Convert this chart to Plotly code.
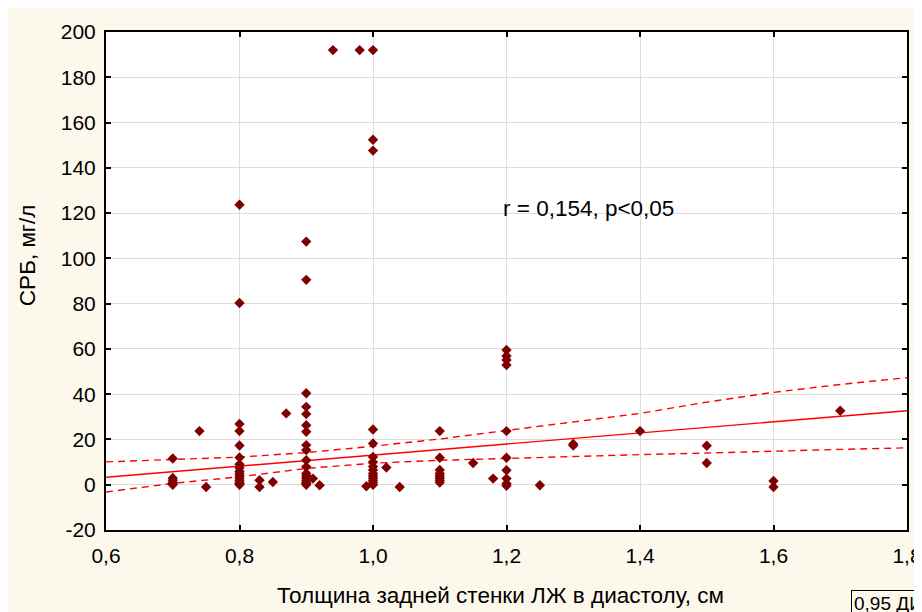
import plotly.graph_objects as go

# ---- data ----
x_vals = (
    [0.70] * 6 + [0.74, 0.75] + [0.80] * 16 + [0.83, 0.83, 0.85, 0.87] + [0.90] * 18
    + [0.91, 0.92, 0.94, 0.98, 0.99] + [1.00] * 15 + [1.02, 1.04] + [1.10] * 8
    + [1.15, 1.18] + [1.20] * 10 + [1.25, 1.30, 1.30, 1.40, 1.50, 1.50, 1.60, 1.60, 1.70]
)
y_vals = (
    [11.6, 3.0, 2.0, 1.0, 0.5, 0.0]
    + [23.7, -1.0]
    + [123.7, 80.3, 26.8, 23.7, 17.3, 12.0, 9.0, 7.5, 6.0, 5.0, 4.0, 3.0, 2.0, 1.0, 0.5, 0.0]
    + [2.0, -1.0, 1.2, 31.5]
    + [107.4, 90.5, 40.4, 34.4, 31.2, 26.3, 23.4, 17.5, 15.3, 10.8, 7.9, 5.0, 4.0, 3.0, 2.0, 1.0, 0.5, 0.0]
    + [2.7, -0.2, 192.0, 192.0, -0.7]
    + [192.0, 152.4, 147.6, 24.4, 18.2, 12.3, 10.0, 8.0, 6.5, 5.0, 4.0, 3.0, 2.0, 1.0, 0.0]
    + [7.6, -1.0]
    + [23.7, 11.9, 6.5, 5.0, 4.0, 3.0, 2.0, 1.0]
    + [9.6, 2.7]
    + [59.5, 56.9, 55.1, 52.9, 23.7, 11.9, 6.4, 2.7, 0.5, -0.5]
    + [-0.2, 18.0, 17.3, 23.7, 17.2, 9.6, 1.7, -1.0, 32.7]
)

fit_x = [0.6, 1.8]
fit_y = [3.3, 32.7]

ci_x = [0.6, 0.7, 0.8, 0.9, 1.0, 1.1, 1.2, 1.3, 1.4, 1.5, 1.6, 1.7, 1.8]
ci_upper = [10.1, 11.0, 12.2, 14.2, 17.0, 20.2, 24.0, 27.8, 31.5, 36.5, 40.8, 44.3, 47.3]
ci_lower = [-3.2, 0.6, 3.5, 7.2, 9.5, 10.8, 11.6, 12.6, 13.3, 14.0, 14.9, 15.6, 16.3]

x_ticks = [0.6, 0.8, 1.0, 1.2, 1.4, 1.6, 1.8]
x_tick_labels = ["0,6", "0,8", "1,0", "1,2", "1,4", "1,6", "1,8"]
y_ticks = [-20, 0, 20, 40, 60, 80, 100, 120, 140, 160, 180, 200]
y_tick_labels = ["-20", "0", "20", "40", "60", "80", "100", "120", "140", "160", "180", "200"]

x_title = "Толщина задней стенки ЛЖ в диастолу, см"
y_title = "СРБ, мг/л"
stat_text = "r = 0,154, p<0,05"
legend_text = "0,95 ДИ"

# ---- styling ----
FONT = "Liberation Sans, Arial, sans-serif"
CREAM = "#FDF8EC"
MARK = "#800000"
LINE = "#FF0000"
GRID = "#DCDCDC"

fig = go.Figure()

fig.add_trace(go.Scatter(x=ci_x, y=ci_upper, mode="lines",
                         line=dict(color=LINE, width=1.4, dash="7px,5px"),
                         hoverinfo="skip", showlegend=False))
fig.add_trace(go.Scatter(x=ci_x, y=ci_lower, mode="lines",
                         line=dict(color=LINE, width=1.4, dash="7px,5px"),
                         hoverinfo="skip", showlegend=False))
fig.add_trace(go.Scatter(x=fit_x, y=fit_y, mode="lines",
                         line=dict(color=LINE, width=1.4),
                         hoverinfo="skip", showlegend=False))
fig.add_trace(go.Scatter(x=x_vals, y=y_vals, mode="markers",
                         marker=dict(symbol="diamond", size=8, color=MARK,
                                     line=dict(width=0)),
                         showlegend=False))

axis_common = dict(showline=True, linecolor="black", linewidth=2, mirror="ticks",
                   ticks="inside", ticklen=5, tickwidth=1.5, tickcolor="black",
                   showgrid=True, gridcolor=GRID, gridwidth=1, zeroline=False,
                   automargin=False,
                   tickfont=dict(family=FONT, size=21, color="black"))

fig.update_layout(
    width=914, height=604,
    margin=dict(l=98, r=15, t=24, b=82, autoexpand=False),
    paper_bgcolor=CREAM, plot_bgcolor="white",
    font=dict(family=FONT, color="black"),
    xaxis=dict(range=[0.6, 1.8], tickvals=x_ticks, ticktext=x_tick_labels,
               ticklabelstandoff=6, **axis_common),
    yaxis=dict(range=[-20, 200], tickvals=y_ticks, ticktext=y_tick_labels,
               ticklabelstandoff=4, **axis_common),
    showlegend=False,
)

fig.add_annotation(text=stat_text, x=1.192, y=122, xref="x", yref="y",
                   xanchor="left", yanchor="middle", showarrow=False,
                   font=dict(family=FONT, size=22.5, color="black"))
fig.add_annotation(text=x_title, x=0.492, y=-0.1325, xref="paper", yref="paper",
                   xanchor="center", yanchor="middle", showarrow=False,
                   font=dict(family=FONT, size=22.5, color="black"))
fig.add_annotation(text=y_title, x=-0.0986, y=0.552, xref="paper", yref="paper",
                   xanchor="center", yanchor="middle", textangle=-90, showarrow=False,
                   font=dict(family=FONT, size=22.5, color="black"))
fig.add_annotation(text=legend_text, x=0.930, y=-0.1205, xref="paper", yref="paper",
                   xanchor="left", yanchor="top", align="left", width=150,
                   showarrow=False, bordercolor="black", borderwidth=1, borderpad=2,
                   bgcolor=CREAM,
                   font=dict(family=FONT, size=19, color="black"))

fig.write_html(
    "out.html",
    post_script="document.documentElement.style.overflow='hidden';"
                "document.body.style.overflow='hidden';",
)
